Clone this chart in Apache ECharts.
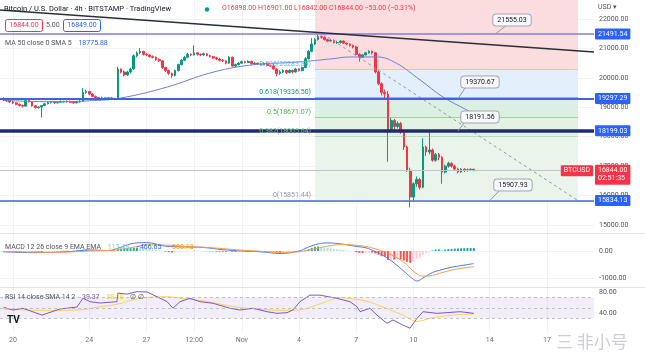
<!DOCTYPE html>
<html><head><meta charset="utf-8">
<script src="https://cdn.jsdelivr.net/npm/echarts@6/dist/echarts.min.js"></script>
<style>html,body{margin:0;padding:0;background:#fff}#c{width:645px;height:360px}</style>
</head><body><div id="c"></div>
<script>
// ---------- DATA ----------
const startDay = -0.5;          // first 4h candle: Oct 19 12:00 (days after Oct 20 00:00)
const stepDay = 1 / 6;          // 4h candles
const firstOpen = 19300;
const closes = [
 19250,19230,19180,
 19150,19100,19060,19040,19230,19190,
 19050,18990,19010,19060,19120,19160,
 19180,19150,19170,19200,19180,19200,
 19170,19150,19180,19200,19500,19540,
 19450,19370,19330,19300,19320,19290,
 19320,19300,19280,20300,20200,20100,
 20200,20300,20750,20850,20900,20800,
 20780,20720,20700,20620,20580,20350,
 20250,20150,20080,20250,20450,20600,
 20700,20800,20780,20850,20800,20780,
 20820,20760,20720,20680,20640,20600,
 20580,20500,20700,20400,20450,20500,
 20550,20520,20560,20480,20500,20470,
 20450,20500,20420,20400,20300,20150,
 20200,20250,20180,20250,20200,20300,
 20250,20350,20650,20900,21150,21300,
 21400,21380,21300,21250,21280,21200,
 21200,21250,21180,21150,21100,21050,
 20800,20700,20780,20850,20900,20850,
 20200,19800,19500,19450,18250,18550,
 18350,18450,18160,17650,16860,15950,
 16400,16550,16280,17650,17480,17550,
 17200,17400,17300,16800,17000,17100,
 17000,16900,16800,16900,16850,16880,
 16898,16844
];
const highs = [
 19340,19290,19260,
 19230,19170,19130,19090,19260,19250,
 19210,19080,19040,19080,19150,19190,
 19210,19200,19190,19230,19220,19230,
 19220,19190,19210,19240,19650,19600,
 19560,19470,19400,19350,19360,19340,
 19350,19340,19320,20380,20320,20250,
 20240,20340,20800,20900,21010,20920,
 20840,20800,20760,20730,20660,20600,
 20380,20280,20180,20280,20480,20640,
 20740,20850,20830,21100,20880,20830,
 20860,20840,20790,20750,20710,20680,
 20640,20600,20740,20720,20480,20540,
 20590,20580,20600,20580,20530,20520,
 20500,20520,20520,20450,20480,20330,
 20260,20290,20280,20290,20280,20340,
 20330,20380,20700,20950,21350,21360,
 21470,21440,21400,21330,21310,21300,
 21260,21280,21270,21200,21170,21130,
 21080,20830,20800,20880,20940,20930,
 20880,20250,19850,19600,19550,18650,
 18600,18520,18500,18200,17700,16950,
 16450,16650,16600,17950,17700,18150,
 17600,17450,17450,17350,17050,17150,
 17120,17050,16950,16930,16920,16920,
 16920,16901
];
const lows = [
 19210,19180,19140,
 19110,19070,19030,18990,19020,19160,
 19020,18960,18950,18650,19040,19100,
 19130,19120,19130,19150,19150,19160,
 19140,19120,19130,19160,19190,19460,
 19420,19340,19300,19260,19280,19250,
 19270,19270,19240,19270,20150,20050,
 20060,20150,20280,20700,20800,20760,
 20740,20690,20660,20580,20540,20300,
 20200,20100,20000,20050,20220,20420,
 20570,20670,20740,20760,20760,20740,
 20750,20730,20690,20640,20600,20560,
 20540,20460,20480,20380,20370,20420,
 20470,20490,20500,20450,20450,20440,
 20420,20430,20390,20370,20280,20050,
 20100,20160,20130,20150,20150,20180,
 20210,20220,20330,20620,20870,21120,
 21270,21330,21270,21220,21230,21170,
 21150,21170,21150,21110,21060,21000,
 20760,20550,20680,20760,20820,20800,
 20150,19750,19400,19300,17150,18150,
 18250,18280,18100,17550,16800,15600,
 15800,16300,16200,16250,17350,17400,
 17150,17150,17200,16400,16750,16950,
 16950,16850,16750,16780,16800,16820,
 16850,16842
];
const macdHist = [
 -10,-15,-20,
 -25,-30,-30,-25,-10,-5,
 -15,-25,-30,-35,-20,-10,
 -5,0,5,10,10,12,
 10,8,8,10,40,55,
 45,35,25,15,10,5,
 0,-5,-8,60,90,100,
 100,105,120,125,120,105,
 85,70,55,40,25,0,
 -20,-40,-55,-45,-30,-15,
 -5,5,5,10,8,5,
 0,-5,-10,-15,-20,-25,
 -28,-30,-20,-30,-35,-32,
 -28,-25,-22,-22,-20,-20,
 -20,-15,-15,-18,-25,-40,
 -50,-45,-40,-35,-30,-20,
 -15,-5,20,60,110,150,
 165,150,130,110,95,75,
 60,50,35,25,10,-5,
 -40,-70,-75,-70,-60,-60,
 -90,-140,-190,-210,-330,-320,
 -320,-300,-310,-350,-400,-440,
 -380,-300,-250,-150,-80,-20,
 20,50,60,40,50,70,
 80,90,95,100,105,110,
 112,113.48
];
// indicator lines, sampled (day, value)
const maDays   = [-0.5, 1, 2.5, 4, 5.6, 8.1, 10.3, 12.4, 15.0, 16.6, 17.7, 19.1, 20.1, 21.35, 22.55, 23.8, 24.17];
const maValues = [19230,19200,19190,19220,19310,19690,20160,20430,20540,20640,20710,20710,20500,19930,19350,18910,18775.88];
const macdDays   = [-0.5,1,2,3,4,5,5.5,6,6.5,7,8,9,10,11,12,13,14,15,15.5,16,16.5,17,17.5,18,18.5,19,19.5,20,20.5,21,21.2,21.5,22,22.5,23,23.5,24.17];
const macdValues = [-30,-60,-50,-20,40,20,100,230,300,310,180,150,130,50,0,-30,-90,0,150,260,300,280,230,170,120,-20,-200,-450,-750,-1050,-1110,-1000,-800,-690,-600,-540,-466.65];
const signalValues = [-20,-40,-50,-35,0,20,40,100,170,230,220,170,140,90,30,-10,-50,-30,30,110,180,230,240,210,170,80,-40,-200,-420,-750,-850,-930,-900,-800,-710,-640,-580.13];
const rsiDays = [-0.5,0,0.52,1.26,1.52,2.46,3.36,3.67,4.04,4.56,5.45,5.5,5.98,6.5,7.03,7.55,8.08,8.39,8.76,9.28,9.81,10.49,11.38,11.9,12.59,13.32,13.84,14.37,14.68,15.05,15.57,16.1,16.99,17.67,18.04,18.2,18.72,19.09,19.61,19.93,20.45,20.82,21.19,21.5,22.23,22.76,23.44,24.17];
const rsiValues = [50.8,45.7,49,39.4,36,47.6,51.4,68,61.6,59,61.6,78,76,80.6,80,71,61.6,49,61.6,68,61.6,58.5,49,45.7,49,42.5,39.4,40.6,45.7,61.6,74,74,68,61.6,52,42.5,49,36,20.4,26.7,17,11,30,42.5,39.4,40.6,42.5,39.37];
const rsiSmaDays   = [-0.5,2,3.5,4.56,5.5,6.66,8.08,9,10,11,12,13,14,15,16,16.6,17.1,18,18.7,19.5,20.45,21.2,21.9,23.1,24.17];
const rsiSmaValues = [47,45,46,52,57,68,71,67,63,56,50,47,45,46,56,64,69,66,61,50,36,24,30,36,38.10];
// drawings
const hLevels = [21491.54, 19297.29, 18199.03, 15834.13];
const lastPrice = 16844.00;
const fibLow = 15851.44, fibHigh = 21491.54;
const fibRatios = [0.786, 0.618, 0.5, 0.382, 0];
const fibLabels = ['0.786(20283.89)', '0.618(19336.50)', '0.5(18671.07)', '0.382(18005.64)', '0(15851.44)'];
const fibStartDay = 15.84, fibEndDay = 29.63;
const fibDiagonal = [[16.26, 21491.54], [29.58, 15851.44]];
const trendLine = [[-0.68, 22306], [30.47, 20879]];
const calloutText  = ['21555.03', '19370.67', '18191.56', '15907.93'];
const calloutBox   = [[26.17, 21966], [24.49, 19859], [24.49, 18670], [26.22, 16359]];
const calloutTail  = [[[25.9, 21796], [25.3, 21491.54]], [[23.75, 19689], [23.34, 19297.29]], [[23.7, 18500], [23.34, 18199.03]], [[25.54, 16189], [25.01, 15834.13]]];
// axes
const tickDays   = [0, 4, 7, 9.5, 12, 15, 18, 21, 25, 28];
const tickLabels = ['20', '24', '27', '12:00', 'Nov', '4', '7', '10', '14', '17'];
const priceTicks = [15000, 16000, 17000, 18000, 19000, 20000, 21000, 22000];
const macdTicks = [0, -1000];
const rsiTicks = [40, 80];

// ---------- BUILD ----------
const FONT = 'Roboto, "Noto Sans", sans-serif';
const UP = '#089981', DOWN = '#f23645';
const X_MIN = -0.682, X_MAX = 30.47;
const candles = closes.map((c, i) => {
  const o = i === 0 ? firstOpen : closes[i - 1];
  return [startDay + i * stepDay, o, c, lows[i], highs[i]];
});
const histData = macdHist.map((v, i) => {
  const prev = i ? macdHist[i - 1] : v;
  let col;
  if (v >= 0) col = v >= prev ? '#26a69a' : '#b2dfdb';
  else col = v <= prev ? '#ff5252' : '#ffcdd2';
  return { value: [startDay + i * stepDay, v], itemStyle: { color: col } };
});
const pairs = (xs, ys) => xs.map((x, i) => [x, ys[i]]);

function xAx(gi, showLabel) {
  return {
    type: 'value', gridIndex: gi, min: X_MIN, max: X_MAX,
    axisLine: { show: false },
    axisTick: { show: false, customValues: tickDays },
    axisLabel: {
      show: showLabel, customValues: tickDays, color: '#6a6d78', fontSize: 7, fontFamily: FONT, margin: 5,
      formatter: v => { const k = tickDays.findIndex(t => Math.abs(t - v) < 1e-6); return k >= 0 ? tickLabels[k] : ''; }
    },
    splitLine: { show: true, lineStyle: { color: '#f0f2f7', width: 1 } }
  };
}
function yAx(gi, min, max, ticks, grid) {
  return {
    type: 'value', gridIndex: gi, position: 'right', min, max, scale: true,
    axisLine: { show: false },
    axisTick: { show: false, customValues: ticks },
    axisLabel: { customValues: ticks, color: '#50535e', fontSize: 7, fontFamily: FONT, margin: 5,
      formatter: v => v.toFixed(2) },
    splitLine: { show: grid, lineStyle: { color: '#f0f2f7', width: 1 } }
  };
}

const fibColors = ['#64b5f6', '#089981', '#4caf50', '#81c784', '#9598a1'];
const fibVals = fibRatios.map(r => fibLow + r * (fibHigh - fibLow));
const zoneStyle = (c) => ({ itemStyle: { color: c } });
const zones = [
  [{ coord: [fibStartDay, fibVals[0]], ...zoneStyle('#fbdde0') }, { coord: [fibEndDay, 22645] }],
  [{ coord: [fibStartDay, fibVals[1]], ...zoneStyle('#e3effb') }, { coord: [fibEndDay, fibVals[0]] }],
  [{ coord: [fibStartDay, fibVals[2]], ...zoneStyle('#dcefe3') }, { coord: [fibEndDay, fibVals[1]] }],
  [{ coord: [fibStartDay, fibVals[3]], ...zoneStyle('#e3f2e5') }, { coord: [fibEndDay, fibVals[2]] }],
  [{ coord: [fibStartDay, fibVals[4]], ...zoneStyle('#e9f5ea') }, { coord: [fibEndDay, fibVals[3]] }]
];

const lineStyles = [
  { color: '#7f7ce6', width: 1.5, type: 'solid' },
  { color: '#3c62e6', width: 1.8, type: 'solid' },
  { color: '#1f2b70', width: 3.5, type: 'solid' },
  { color: '#3c62e6', width: 1.5, type: 'solid' }
];
const boxLabel = (txt, bg) => ({
  show: true, position: 'end', distance: 1, formatter: txt, backgroundColor: bg, color: '#fff',
  fontSize: 7, fontFamily: FONT, padding: [2, 3], borderRadius: 1
});
const markLines = [];
hLevels.forEach((v, i) => markLines.push({ yAxis: v, lineStyle: lineStyles[i], label: boxLabel(v.toFixed(2), '#2962ff') }));
markLines.push({ yAxis: lastPrice, lineStyle: { color: '#c2c4cc', width: 1, type: 'solid' },
  label: { ...boxLabel(lastPrice.toFixed(2) + '\n02:51:35', DOWN), offset: [0, 4], lineHeight: 8 } });
fibVals.forEach((v, i) => markLines.push([
  { coord: [fibStartDay, v], lineStyle: { color: fibColors[i], width: 0.8, opacity: 0.6, type: 'solid' }, label: { show: false } },
  { coord: [fibEndDay, v] }
]));
calloutTail.forEach(t => markLines.push([
  { coord: t[0], lineStyle: { color: '#9598a1', width: 1, type: 'solid' }, label: { show: false } },
  { coord: t[1] }
]));

const markPoints = [];
calloutText.forEach((t, i) => markPoints.push({
  coord: calloutBox[i], symbol: 'circle', symbolSize: 0,
  label: { show: true, position: 'inside', formatter: t, color: '#131722', fontSize: 7, fontFamily: FONT,
    backgroundColor: '#f8f9fd', borderColor: '#a3a6af', borderWidth: 1, borderRadius: 3, padding: [2, 4] }
}));
fibVals.forEach((v, i) => markPoints.push({
  coord: [fibStartDay, v], symbol: 'circle', symbolSize: 0,
  label: { show: true, position: 'left', distance: 4, offset: [0, -5], formatter: fibLabels[i],
    color: fibColors[i], fontSize: 7, fontFamily: FONT }
}));
markPoints.push({
  coord: [X_MAX, lastPrice], symbol: 'circle', symbolSize: 0,
  label: { show: true, position: 'left', distance: 1, formatter: 'BTCUSD', backgroundColor: DOWN, color: '#fff',
    fontSize: 7, fontFamily: FONT, padding: [2, 3], borderRadius: 1 }
});

const chart = echarts.init(document.getElementById('c'), null, { renderer: 'canvas' });
chart.setOption({
  animation: false,
  backgroundColor: '#ffffff',
  grid: [
    { left: 0, top: 0, width: 594, height: 233, outerBoundsMode: 'none' },
    { left: 0, top: 234, width: 594, height: 53, outerBoundsMode: 'none' },
    { left: 0, top: 288, width: 594, height: 44, outerBoundsMode: 'none' }
  ],
  xAxis: [xAx(0, false), xAx(1, false), xAx(2, true)],
  yAxis: [
    yAx(0, 14728.5, 22645.6, priceTicks, true),
    yAx(1, -1333, 630, macdTicks, true),
    yAx(2, 3.81, 87.62, rsiTicks, false)
  ],
  series: [
    { type: 'line', xAxisIndex: 0, yAxisIndex: 0, data: [], z: 1, silent: true,
      markArea: { silent: true, data: zones } },
    { type: 'candlestick', xAxisIndex: 0, yAxisIndex: 0, data: candles, barWidth: 2.2, z: 3,
      encode: { x: 0, y: [1, 2, 3, 4] },
      itemStyle: { color: UP, color0: DOWN, borderColor: UP, borderColor0: DOWN, borderWidth: 1 } },
    { type: 'line', xAxisIndex: 0, yAxisIndex: 0, data: pairs(maDays, maValues), smooth: 0.4, symbol: 'none', z: 4,
      lineStyle: { color: '#6e7fd8', width: 1 } },
    { type: 'line', xAxisIndex: 0, yAxisIndex: 0, data: fibDiagonal, symbol: 'none', z: 4,
      lineStyle: { color: '#9598a1', width: 1, type: [3, 3] } },
    { type: 'line', xAxisIndex: 0, yAxisIndex: 0, data: trendLine, symbol: 'none', z: 5,
      lineStyle: { color: '#2a2e39', width: 1.5 } },
    { type: 'line', xAxisIndex: 0, yAxisIndex: 0, data: [], z: 6, silent: true,
      markLine: { silent: true, symbol: ['none', 'none'], lineStyle: { type: 'solid' }, data: markLines },
      markPoint: { silent: true, data: markPoints } },
    { type: 'bar', xAxisIndex: 1, yAxisIndex: 1, data: histData, barWidth: 2 },
    { type: 'line', xAxisIndex: 1, yAxisIndex: 1, data: pairs(macdDays, macdValues), smooth: 0.4, symbol: 'none',
      lineStyle: { color: '#4a78ee', width: 1 } },
    { type: 'line', xAxisIndex: 1, yAxisIndex: 1, data: pairs(macdDays, signalValues), smooth: 0.4, symbol: 'none',
      lineStyle: { color: '#f59c4c', width: 1 } },
    { type: 'line', xAxisIndex: 2, yAxisIndex: 2, data: pairs(rsiSmaDays, rsiSmaValues), smooth: 0.4, symbol: 'none',
      lineStyle: { color: '#f7d35c', width: 1 } },
    { type: 'line', xAxisIndex: 2, yAxisIndex: 2, data: pairs(rsiDays, rsiValues), symbol: 'none',
      lineStyle: { color: '#7e57c2', width: 1 },
      markArea: { silent: true, itemStyle: { color: 'rgba(126,87,194,0.1)' }, data: [[{ yAxis: 30 }, { yAxis: 70 }]] },
      markLine: { silent: true, symbol: ['none', 'none'], label: { show: false },
        lineStyle: { color: '#b2b5be', width: 0.8, type: [3, 3] }, data: [{ yAxis: 70 }, { yAxis: 50 }, { yAxis: 30 }] } }
  ],
  graphic: [
    { type: 'line', shape: { x1: 0, y1: 233.5, x2: 645, y2: 233.5 }, style: { stroke: '#e0e3eb', lineWidth: 1 } },
    { type: 'line', shape: { x1: 0, y1: 287.5, x2: 645, y2: 287.5 }, style: { stroke: '#e0e3eb', lineWidth: 1 } },
    { type: 'text', left: 4, top: 5, z: 100, style: { text: 'Bitcoin / U.S. Dollar · 4h · BITSTAMP · TradingView', fill: '#131722', fontSize: 7.5, fontFamily: FONT } },
    { type: 'circle', shape: { cx: 207, cy: 9.5, r: 2.2 }, style: { fill: '#089981' }, z: 100 },
    { type: 'text', left: 222, top: 5, z: 100, style: { text: 'O16898.00 H16901.00 L16842.00 C16844.00 −53.00 (−0.31%)', fill: DOWN, fontSize: 7, fontFamily: FONT } },
    { type: 'rect', shape: { x: 5.5, y: 19.5, width: 37, height: 12, r: 2 }, style: { fill: '#fff', stroke: DOWN, lineWidth: 1 }, z: 100 },
    { type: 'text', x: 24, y: 25.5, z: 101, style: { text: '16844.00', fill: DOWN, fontSize: 7, fontFamily: FONT, align: 'center', verticalAlign: 'middle' } },
    { type: 'text', x: 46, y: 25.5, z: 101, style: { text: '5.00', fill: '#50535e', fontSize: 7, fontFamily: FONT, verticalAlign: 'middle' } },
    { type: 'rect', shape: { x: 63.5, y: 19.5, width: 37, height: 12, r: 2 }, style: { fill: '#fff', stroke: '#2962ff', lineWidth: 1 }, z: 100 },
    { type: 'text', x: 82, y: 25.5, z: 101, style: { text: '16849.00', fill: '#2962ff', fontSize: 7, fontFamily: FONT, align: 'center', verticalAlign: 'middle' } },
    { type: 'text', left: 5, top: 37, z: 100, style: { text: '{g|MA 50 close 0 SMA 5}  {b|18775.88}', rich: { g: { fill: '#50535e', fontSize: 7, fontFamily: FONT }, b: { fill: '#2962ff', fontSize: 7, fontFamily: FONT } } } },
    { type: 'text', left: 5, top: 241, z: 100, style: { text: '{g|MACD 12 26 close 9 EMA EMA}  {t|113.48}  {b|−466.65}  {o|−580.13}', rich: { g: { fill: '#50535e', fontSize: 7, fontFamily: FONT }, t: { fill: '#80cbc4', fontSize: 7, fontFamily: FONT }, b: { fill: '#2962ff', fontSize: 7, fontFamily: FONT }, o: { fill: '#ff9800', fontSize: 7, fontFamily: FONT } } } },
    { type: 'text', left: 5, top: 291, z: 100, style: { text: '{g|RSI 14 close SMA 14 2}  {p|39.37}  {y|38.10}  {g|∅ ∅}', rich: { g: { fill: '#50535e', fontSize: 7, fontFamily: FONT }, p: { fill: '#7e57c2', fontSize: 7, fontFamily: FONT }, y: { fill: '#f5c33b', fontSize: 7, fontFamily: FONT } } } },
    { type: 'text', left: 598, top: 4, z: 100, style: { text: 'USD ▾', fill: '#50535e', fontSize: 7, fontFamily: FONT } },
    { type: 'text', left: 7, top: 315, z: 100, style: { text: 'TV', fill: '#131722', fontSize: 10, fontWeight: 'bold', fontFamily: FONT } },
    { type: 'text', left: 556, top: 333, z: 100, style: { text: '三 非小号', fill: 'rgba(190,190,195,0.75)', fontSize: 17, fontFamily: '"Noto Sans CJK SC", sans-serif' } }
  ]
});
</script>
</body></html>
